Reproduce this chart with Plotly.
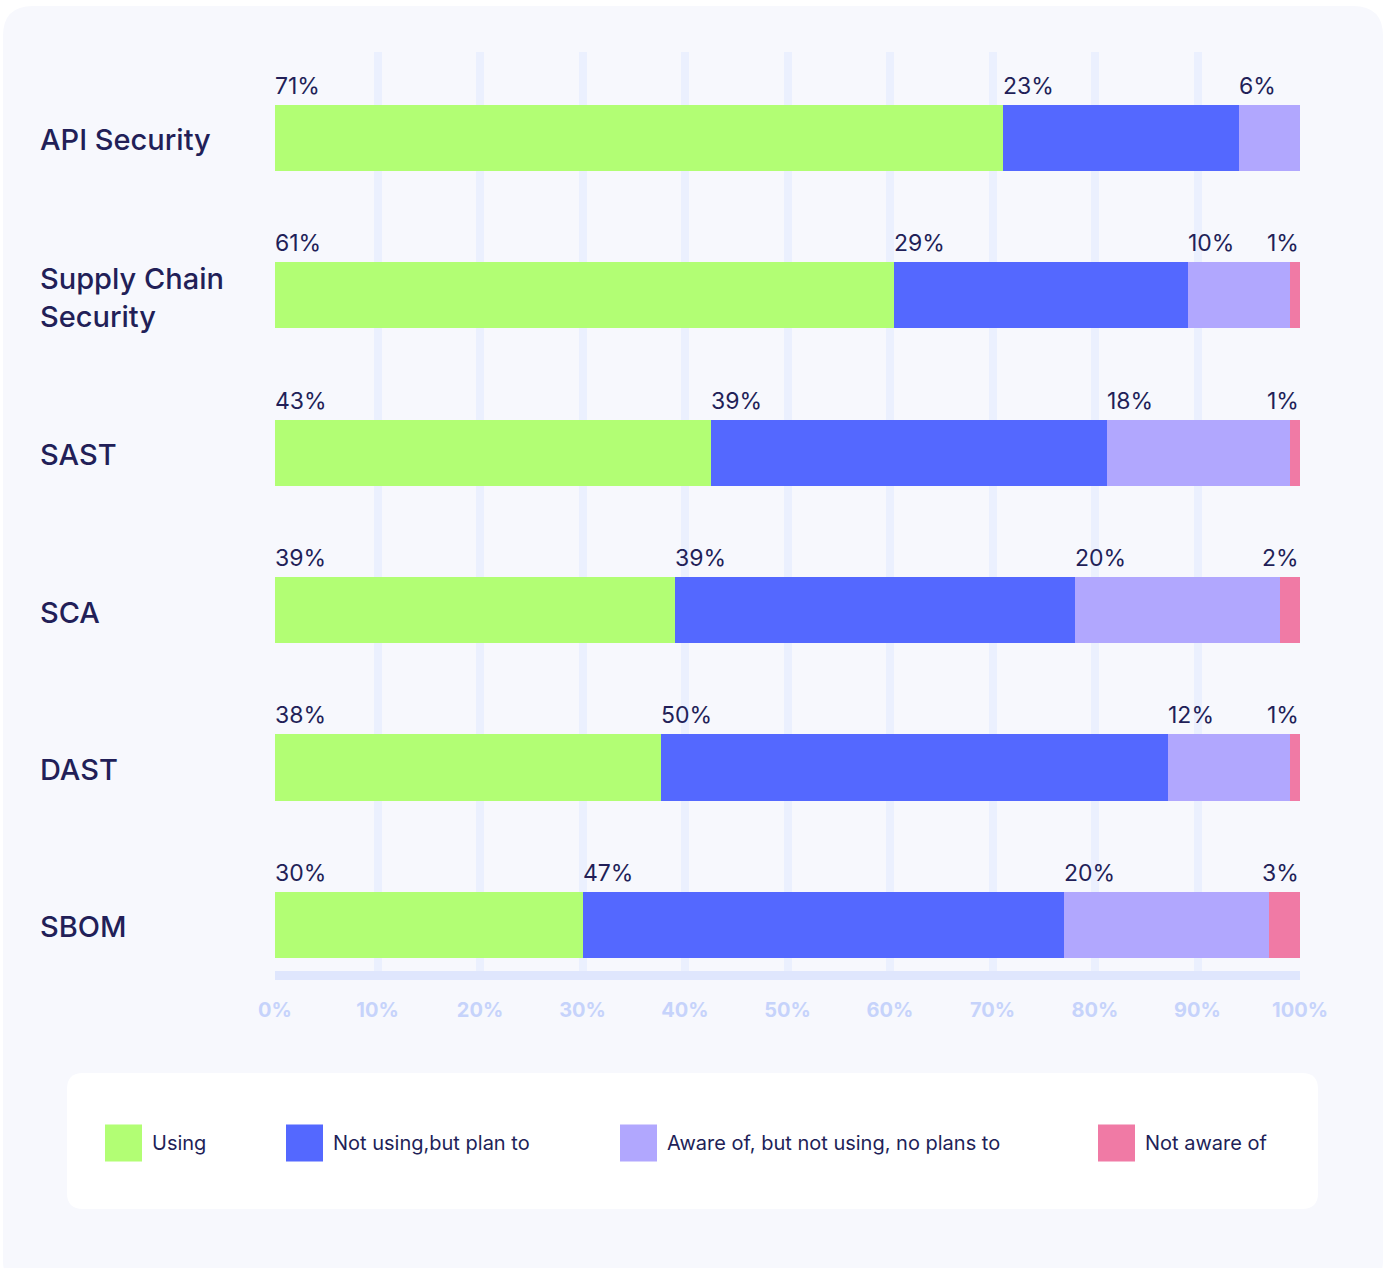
import numpy as np
import plotly.graph_objects as go

# Survey data: share of respondents per tool category
categories = ["API Security", "Supply Chain<br>Security", "SAST", "SCA", "DAST", "SBOM"]
series_names = ["Using", "Not using,but plan to", "Aware of, but not using, no plans to", "Not aware of"]
using = [71, 61, 43, 39, 38, 30]
plan_to = [23, 29, 39, 39, 50, 47]
aware_no_plans = [6, 10, 18, 20, 12, 20]
not_aware = [0, 1, 1, 2, 1, 3]
x_ticks = [0, 10, 20, 30, 40, 50, 60, 70, 80, 90, 100]
x_tick_labels = [f"{t}%" for t in x_ticks]

colors = ["#b2fe74", "#5468ff", "#b1a7fe", "#f07aa5"]
NAVY = "#221f58"
CARD = "#f7f8fd"
FONT = "Inter"

W, H = 1389, 1268
# plot area in pixels
PX0, PX1 = 275, 1300
PY0, PY1 = 52, 971
# legend box in pixels
LX0, LX1, LY0, LY1 = 67, 1318, 1073, 1209
legend_item_x = [105, 286, 620, 1098]


def fx(px):
    return px / W


def fy(py):
    return 1 - py / H


def rounded_rect(x0, y0, x1, y1, r):
    """SVG path for a rounded rectangle, pixel box -> paper coords."""
    rx, ry = r / W, r / H
    a, b, c, d = fx(x0), fy(y1), fx(x1), fy(y0)  # left, bottom, right, top
    return (
        f"M {a + rx},{b} L {c - rx},{b} Q {c},{b} {c},{b + ry} "
        f"L {c},{d - ry} Q {c},{d} {c - rx},{d} L {a + rx},{d} "
        f"Q {a},{d} {a},{d - ry} L {a},{b + ry} Q {a},{b} {a + rx},{b} Z"
    )


data = np.array([using, plan_to, aware_no_plans, not_aware], dtype=float)
totals = data.sum(axis=0)
norm = data / totals * 100
starts = np.cumsum(norm, axis=0) - norm

fig = go.Figure()

for i, name in enumerate(series_names):
    fig.add_trace(go.Bar(
        y=categories, x=list(data[i]), name=name, orientation="h",
        marker=dict(color=colors[i], line=dict(width=0)),
        width=0.42, showlegend=False, hoverinfo="skip",
    ))

annotations = []
# value labels above each segment
for i in range(len(series_names)):
    for j, cat in enumerate(categories):
        v = data[i, j]
        if v <= 0:
            continue
        s = starts[i, j]
        if s + 3.6 > 100:
            xa, anchor, xs = 100, "right", 1
        else:
            xa, anchor, xs = s, "left", -2
        annotations.append(dict(
            x=xa, y=cat, xref="x", yref="y", text=f"{int(v)}%",
            showarrow=False, xanchor=anchor, yanchor="middle", yshift=52, xshift=xs,
            font=dict(family=FONT, size=23, color=NAVY),
        ))

# category labels on the left
for cat in categories:
    annotations.append(dict(
        x=fx(38), y=cat, xref="paper", yref="y", text=cat, align="left",
        showarrow=False, xanchor="left", yanchor="middle", yshift=-2,
        font=dict(family=FONT, size=29, color=NAVY, weight=500),
    ))

# custom legend: squares on a hidden axis pair, with labels
LEG_Y = 0.485
for i, name in enumerate(series_names):
    fig.add_trace(go.Scatter(
        x=[legend_item_x[i] + 18.5], y=[LEG_Y], xaxis="x2", yaxis="y2",
        mode="markers", marker=dict(symbol="square", size=37, color=colors[i], line=dict(width=0)),
        showlegend=False, hoverinfo="skip",
    ))
    annotations.append(dict(
        x=legend_item_x[i] + 45, y=LEG_Y, xref="x2", yref="y2", text=name,
        showarrow=False, xanchor="left", yanchor="middle",
        font=dict(family=FONT, size=20, color=NAVY),
    ))

shapes = [
    dict(type="path", path=rounded_rect(3, 6, 1383, 1290, 30), xref="paper", yref="paper",
         fillcolor=CARD, line=dict(width=0), layer="below"),
    dict(type="path", path=rounded_rect(LX0, LY0, LX1, LY1, 16), xref="paper", yref="paper",
         fillcolor="#ffffff", line=dict(width=0), layer="below"),
]

fig.update_layout(
    width=W, height=H,
    margin=dict(l=0, r=0, t=0, b=0),
    paper_bgcolor="#ffffff", plot_bgcolor="rgba(0,0,0,0)",
    barmode="stack", barnorm="percent", bargap=0,
    font=dict(family=FONT, color=NAVY),
    xaxis=dict(
        domain=[fx(PX0), fx(PX1)], range=[0, 100],
        tickmode="array", tickvals=x_ticks, ticktext=x_tick_labels,
        showgrid=True, gridcolor="#ebf0fe", gridwidth=8, zeroline=False,
        showline=True, linecolor="#dfe6fd", linewidth=9,
        ticks="", ticklabelstandoff=13,
        tickfont=dict(family=FONT, size=20, color="#c6d3fb", weight=700),
        fixedrange=True, automargin=False,
    ),
    yaxis=dict(
        domain=[fy(PY1), fy(PY0)], type="category",
        categoryorder="array", categoryarray=categories,
        range=[5.293, -0.546], showticklabels=False, showgrid=False,
        zeroline=False, showline=False, fixedrange=True, automargin=False,
    ),
    xaxis2=dict(domain=[fx(LX0), fx(LX1)], range=[LX0, LX1], visible=False,
                anchor="y2", fixedrange=True),
    yaxis2=dict(domain=[fy(LY1), fy(LY0)], range=[0, 1], visible=False,
                anchor="x2", fixedrange=True),
    annotations=annotations,
    shapes=shapes,
    showlegend=False,
)

fig.write_html("out.html", config={"displayModeBar": False})
